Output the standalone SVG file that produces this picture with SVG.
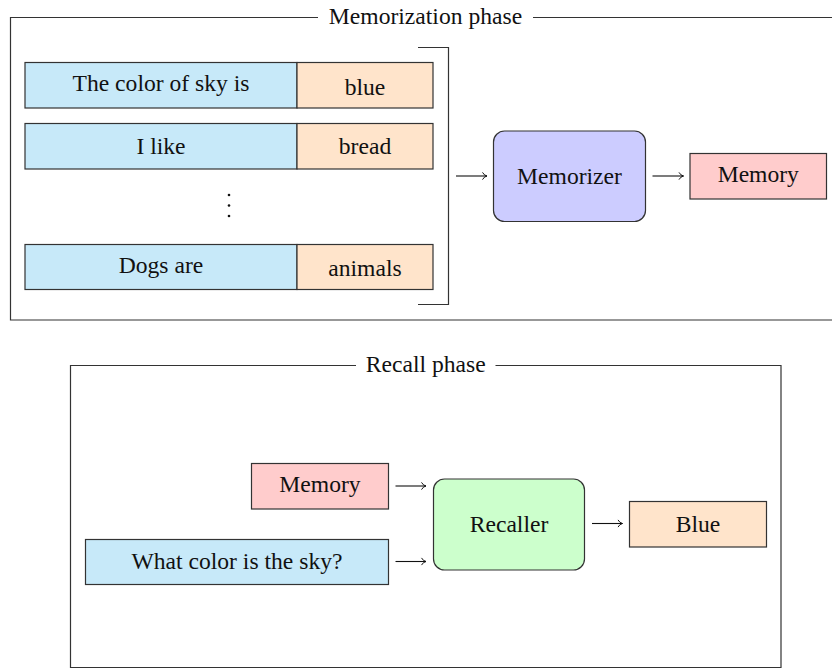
<svg xmlns="http://www.w3.org/2000/svg" width="832" height="669" viewBox="0 0 832 669">
<style>
text{font-family:"Liberation Serif","Times New Roman",serif;font-size:23.6px;fill:#111;text-anchor:middle}
.frame{fill:none;stroke:#333;stroke-width:1.2}
.box{stroke:#333;stroke-width:1.2}
.q{fill:#C7E9F9}
.a{fill:#FFE4CB}
.mz{fill:#CCCCFF}
.mem{fill:#FFCCCC}
.rc{fill:#CCFFCC}
.arr{fill:none;stroke:#111;stroke-width:1.1}
</style>
<defs>
<marker id="ah" viewBox="0 0 10 10" refX="9" refY="5" markerWidth="9" markerHeight="9" markerUnits="userSpaceOnUse" orient="auto">
<path d="M4,1 Q6,4.5 9,5 Q6,5.5 4,9" fill="none" stroke="#111" stroke-width="1.1"/>
</marker>
</defs>
<g id="memorization-frame">
<path class="frame" d="M318,17.5 H10.5 V320 H832 M533,17.5 H832"/>
<text x="425.5" y="24">Memorization phase</text>
</g>
<g id="row1">
<rect class="box q" x="25" y="62.5" width="272" height="45.5"/>
<rect class="box a" x="297" y="62.5" width="136" height="45.5"/>
<text x="161" y="91">The color of sky is</text>
<text x="365" y="94.5">blue</text>
</g>
<g id="row2">
<rect class="box q" x="25" y="123.5" width="272" height="45.5"/>
<rect class="box a" x="297" y="123.5" width="136" height="45.5"/>
<text x="161" y="154">I like</text>
<text x="365" y="154">bread</text>
</g>
<g id="dots">
<circle cx="229" cy="195" r="1.3" fill="#111"/>
<circle cx="229" cy="205.5" r="1.3" fill="#111"/>
<circle cx="229" cy="216" r="1.3" fill="#111"/>
</g>
<g id="row3">
<rect class="box q" x="25" y="244.5" width="272" height="45"/>
<rect class="box a" x="297" y="244.5" width="136" height="45"/>
<text x="161" y="272.5">Dogs are</text>
<text x="365" y="275.5">animals</text>
</g>
<g id="bracket">
<path class="frame" d="M418,47.5 H448.5 V304.5 H418"/>
</g>
<g id="memorizer">
<rect class="box mz" x="493.5" y="131" width="152" height="90.5" rx="11"/>
<text x="569.5" y="183.5">Memorizer</text>
</g>
<g id="memory-out">
<rect class="box mem" x="690" y="153.5" width="136.5" height="45.5"/>
<text x="758.3" y="182">Memory</text>
</g>
<g id="recall-frame">
<path class="frame" d="M356,365.5 H70.5 V667.5 H781 V365.5 H495.5"/>
<text x="425.7" y="372">Recall phase</text>
</g>
<g id="memory-in">
<rect class="box mem" x="251.5" y="463.5" width="137" height="45.5"/>
<text x="320" y="492">Memory</text>
</g>
<g id="question">
<rect class="box q" x="85.5" y="539.5" width="303" height="45"/>
<text x="237" y="568.5">What color is the sky?</text>
</g>
<g id="recaller">
<rect class="box rc" x="433.5" y="479" width="151" height="91" rx="11"/>
<text x="509" y="532">Recaller</text>
</g>
<g id="answer">
<rect class="box a" x="629.5" y="501.5" width="137" height="45.5"/>
<text x="698" y="532">Blue</text>
</g>
<g id="connectors">
<line class="arr" x1="456" y1="176" x2="487" y2="176" marker-end="url(#ah)"/>
<line class="arr" x1="652.5" y1="176" x2="683.5" y2="176" marker-end="url(#ah)"/>
<line class="arr" x1="395.5" y1="486" x2="426" y2="486" marker-end="url(#ah)"/>
<line class="arr" x1="395.5" y1="561.5" x2="426" y2="561.5" marker-end="url(#ah)"/>
<line class="arr" x1="592" y1="523.5" x2="622.5" y2="523.5" marker-end="url(#ah)"/>
</g>
</svg>
